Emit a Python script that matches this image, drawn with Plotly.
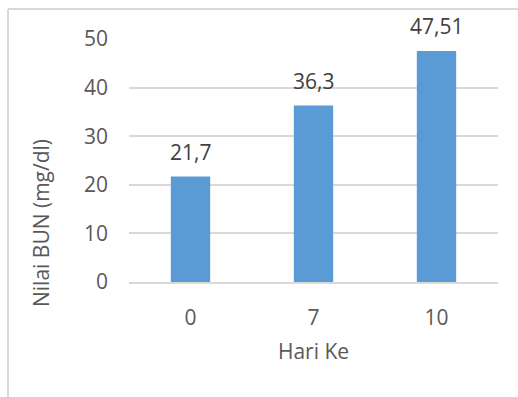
import plotly.graph_objects as go

categories = ["0", "7", "10"]
values = [21.7, 36.3, 47.51]
labels = [str(v).replace(".", ",") for v in values]
y_ticks = [0, 10, 20, 30, 40, 50]

W, H = 518, 397
L, R, T, B = 129, 20, 39, 115
pw = W - L - R
ph = H - T - B

fig = go.Figure()
fig.add_trace(go.Bar(
    x=categories, y=values,
    marker=dict(color="#5B9BD5", line=dict(width=0)),
    width=0.32, cliponaxis=False,
))

font = dict(family="Open Sans", size=21, color="#595959")

annotations = [dict(
    x=i, y=v, text=t, xref="x", yref="y", showarrow=False,
    yanchor="bottom", xanchor="center", yshift=9,
    font=dict(family="Open Sans", size=21, color="#404040"),
) for i, (v, t) in enumerate(zip(values, labels))]
annotations.append(dict(
    text="Nilai BUN (mg/dl)", xref="paper", yref="paper",
    x=(41 - L) / pw, y=(H - B - 223) / ph, textangle=-90,
    showarrow=False, font=font, xanchor="center", yanchor="middle",
))

top_y = (H - B - 9) / ph
left_x = (8 - L) / pw
fig.update_layout(
    width=W, height=H,
    margin=dict(l=L, r=R, t=T, b=B),
    paper_bgcolor="white", plot_bgcolor="white",
    font=font,
    showlegend=False,
    xaxis=dict(
        type="category", range=[-0.5, len(categories) - 0.5],
        showgrid=False, showline=True, linecolor="#d9d9d9",
        linewidth=2, ticks="", ticklabelstandoff=16,
        title=dict(text="Hari Ke", font=font, standoff=14),
    ),
    yaxis=dict(
        range=[0, 50], tickvals=y_ticks, showgrid=True, gridcolor="#d9d9d9",
        gridwidth=1.5, zeroline=False, showline=False, ticks="",
        ticklabelstandoff=20,
    ),
    shapes=[
        dict(type="line", xref="paper", yref="paper",
             x0=left_x, x1=(W + 5 - L) / pw, y0=top_y, y1=top_y,
             line=dict(color="#d9d9d9", width=2)),
        dict(type="line", xref="paper", yref="paper",
             x0=left_x, x1=left_x, y0=top_y, y1=(-B - 5) / ph,
             line=dict(color="#d9d9d9", width=2)),
    ],
    annotations=annotations,
)

fig.write_html("out.html")
